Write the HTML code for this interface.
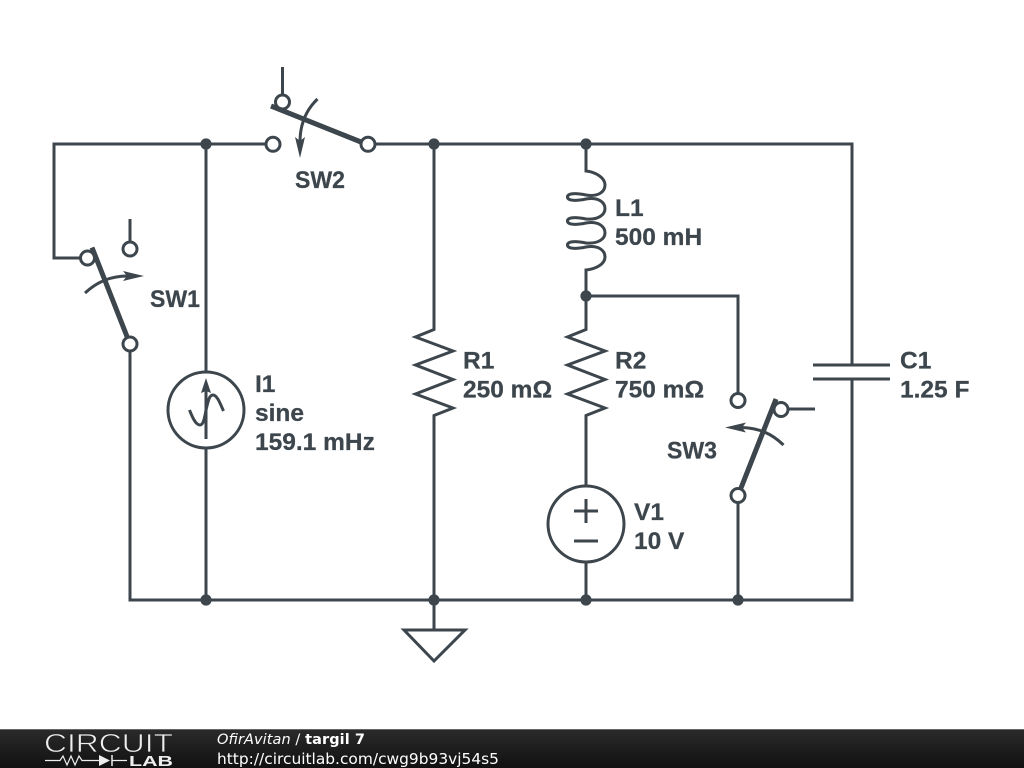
<!DOCTYPE html>
<html><head><meta charset="utf-8"><style>
html,body{margin:0;padding:0;background:#fff;width:1024px;height:768px;overflow:hidden}
svg{display:block;filter:blur(0.35px)}
.w{fill:none;stroke:#3c464c;stroke-width:3;stroke-linejoin:miter}
.b{fill:none;stroke:#3c464c;stroke-width:5}
.c{fill:#fff;stroke:#3c464c;stroke-width:3}
.t{fill:#3c464c;stroke:#3c464c;stroke-width:0.25;font:bold 24.5px "Liberation Sans",sans-serif}
.d{fill:#3c464c}
</style></head><body>
<svg width="1024" height="768" viewBox="0 0 1024 768" xmlns="http://www.w3.org/2000/svg">
<defs><linearGradient id="g" x1="0" y1="0" x2="0" y2="1"><stop offset="0" stop-color="#2b2b2b"/><stop offset="1" stop-color="#111"/></linearGradient></defs>
<!-- wires -->
<path class="w" d="M273 144H54V258H87"/>
<path class="w" d="M206 144V372M206 448V600"/>
<path class="w" d="M368 144H852V365M852 379V600H130V344"/>
<path class="w" d="M434 144V329.5L415.5 337L453 351L415.5 365L453 379.5L415.5 394L453 408L434 415.5V600"/>
<path class="w" d="M586 144V171C596 172 605 178 605 185C605 192 598 197 586 195C576 193 567.500 193 567.500 197C567.500 201 576 201 586 199C598 197 605 202 605 208.500C605 215 598 220 586 219C576 217 567.500 217 567.500 221C567.500 225 576 225 586 223C598 221 605 226 605 233C605 239 598 244 586 243C576 241 567.500 241 567.500 245C567.500 249 576 249 586 247C598 245 605 250 605 257C605 264 596 269 586 270V329.5L567.5 337L605 351L567.5 365L605 379.5L567.5 394L605 408L586 415.5V486M586 562V600"/>
<path class="w" d="M586 296H738V400M738 495V600"/>
<path class="w" d="M130 249V219M282.500 102V67M781 409H815"/>
<path class="w" d="M813 365H890M813 379H890"/>
<path class="w" d="M434 600V630M404 630H465L434 661Z"/>
<!-- sources -->
<circle class="c" cx="206" cy="410" r="38"/>
<path class="w" d="M206 439V388"/>
<path class="d" d="M206 378L211 393L206 391L201 393Z"/>
<path class="w" d="M189.500 410C193 419 196 425 200 425C204 425 205 415 206 410C208 402 209 395 213 395C217 395 220 403 223.500 411"/>
<circle class="c" cx="586" cy="524" r="38"/>
<path class="w" d="M574 511H598M586 499V523M574 541H598"/>
<!-- switches -->
<circle class="c" cx="87.500" cy="258" r="7"/><circle class="c" cx="130" cy="249" r="7"/><circle class="c" cx="130" cy="344" r="7"/>
<path class="b" d="M92 247.500L127 336.500"/>
<path class="w" d="M85 293C97 282 110 276 128 276"/>
<path class="d" d="M144 276L123 271L127 276L123 281Z"/>
<circle class="c" cx="273" cy="144.300" r="7"/><circle class="c" cx="368" cy="144.300" r="7"/><circle class="c" cx="282.500" cy="102" r="7"/>
<path class="b" d="M271 106L361 142"/>
<path class="w" d="M317.500 99C306 110 300 124 300 142"/>
<path class="d" d="M300 158L295 137L300 141L305 137Z"/>
<circle class="c" cx="738" cy="400.500" r="7"/><circle class="c" cx="738" cy="495.500" r="7"/><circle class="c" cx="781" cy="409.500" r="7"/>
<path class="b" d="M776 399L741 488"/>
<path class="w" d="M783.500 445C772 434 760 428 741 427.500"/>
<path class="d" d="M725 427.500L746 422.500L742 427.500L746 432.500Z"/>
<!-- junctions -->
<g class="d"><circle cx="206" cy="144" r="5.600"/><circle cx="434" cy="144" r="5.600"/><circle cx="586" cy="144" r="5.600"/><circle cx="586" cy="296" r="5.600"/><circle cx="206" cy="600" r="5.600"/><circle cx="434" cy="600" r="5.600"/><circle cx="586" cy="600" r="5.600"/><circle cx="738" cy="600" r="5.600"/></g>
<!-- labels -->
<text class="t" x="150" y="307" textLength="50" lengthAdjust="spacingAndGlyphs">SW1</text>
<text class="t" x="295" y="188" textLength="50" lengthAdjust="spacingAndGlyphs">SW2</text>
<text class="t" x="667" y="458.500" textLength="50" lengthAdjust="spacingAndGlyphs">SW3</text>
<text class="t" x="615" y="216">L1</text><text class="t" x="615" y="245">500 mH</text>
<text class="t" x="463" y="368.500">R1</text><text class="t" x="463" y="397.500">250 mΩ</text>
<text class="t" x="615" y="368.500">R2</text><text class="t" x="615" y="397.500">750 mΩ</text>
<text class="t" x="255" y="392">I1</text><text class="t" x="255" y="421">sine</text><text class="t" x="255" y="450">159.1 mHz</text>
<text class="t" x="634" y="520">V1</text><text class="t" x="634" y="549">10 V</text>
<text class="t" x="900" y="368.500">C1</text><text class="t" x="900" y="397.500">1.25 F</text>
<!-- footer -->
<rect x="0" y="729" width="1024" height="39" fill="url(#g)"/>
<rect x="0" y="729" width="1024" height="1" fill="#666"/>
<text x="44" y="752" textLength="129" lengthAdjust="spacingAndGlyphs" font-family="Liberation Sans, sans-serif" font-size="26" fill="#eee" stroke="#222" stroke-width="0.7" paint-order="fill">CIRCUIT</text>
<path d="M45 760.500H60L63 756L67 765L71 756L75 765L79 756L82 760.500H100M112 760.500H127" fill="none" stroke="#eee" stroke-width="1.200"/>
<path d="M99 755L110 760.500L99 766Z" fill="#eee"/><path d="M112 755V766" stroke="#eee" stroke-width="1.500"/>
<text x="129" y="766" textLength="44" lengthAdjust="spacingAndGlyphs" font-family="Liberation Sans, sans-serif" font-weight="bold" font-size="15" fill="#eee">LAB</text>
<text x="217" y="744" textLength="148" lengthAdjust="spacing" font-family="DejaVu Sans, sans-serif" font-size="14.500" fill="#fff"><tspan font-style="italic">OfirAvitan</tspan> / <tspan font-weight="bold">targil 7</tspan></text>
<text x="217" y="764" textLength="282" lengthAdjust="spacingAndGlyphs" font-family="DejaVu Sans, sans-serif" font-size="15" fill="#fff">http://circuitlab.com/cwg9b93vj54s5</text>
</svg>
</body></html>
